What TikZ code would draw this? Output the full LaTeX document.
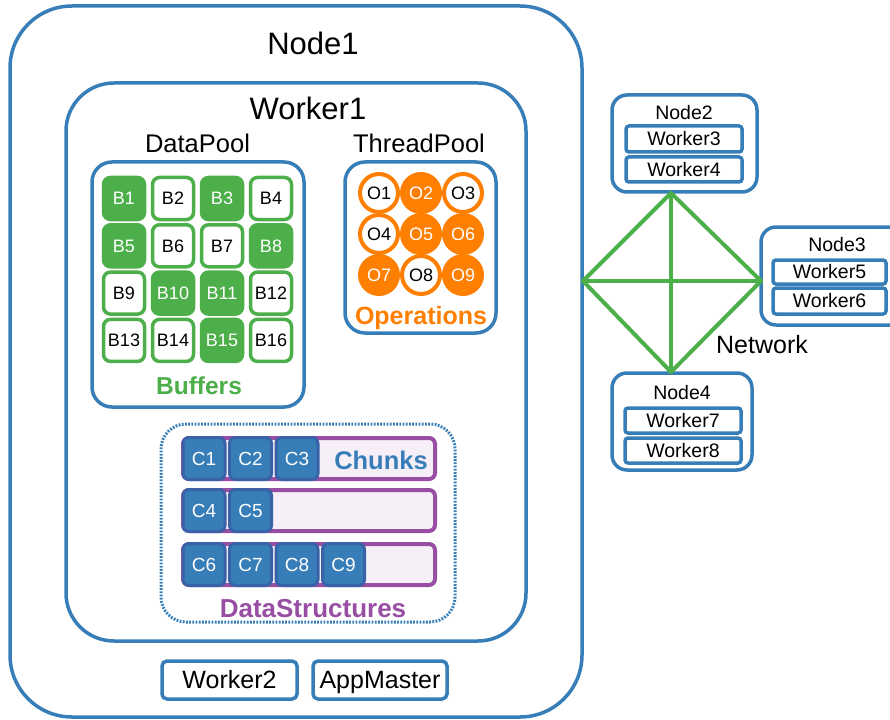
\documentclass[tikz,border=0pt]{standalone}
\usepackage{fontspec}
\setmainfont{Liberation Sans}
\definecolor{sblue}{RGB}{55,126,184}
\definecolor{sgreen}{RGB}{77,175,74}
\definecolor{sorange}{RGB}{255,127,0}
\definecolor{spurple}{RGB}{152,78,163}
\definecolor{chunkedge}{RGB}{58,98,168}
\definecolor{barfill}{RGB}{246,239,248}
\newcommand{\fsz}[1]{\fontsize{#1}{#1}\selectfont}
\begin{document}
\begin{tikzpicture}[x=1pt,y=-1pt,
  % fs=<size>: font size in pt, text box as tall as a capital so labels centre on their caps
  fs/.code={\pgfmathsetmacro\lblh{0.716*#1}%
    \tikzset{font=\fsz{#1}, text height/.expanded=\lblh pt, text depth=0pt}},
  lbl/.style={inner sep=0pt},
  frame/.style={draw=sblue, line width=3.5pt, fill=white, inner sep=0pt},
  smallframe/.style={draw=sblue, line width=3.5pt, fill=white, inner sep=0pt, rounded corners=3pt},
  bfull/.style={draw=sgreen, fill=sgreen, text=white, line width=3.5pt, rounded corners=7pt,
    minimum width=41pt, minimum height=42pt, inner sep=0pt, fs=18},
  bempty/.style={bfull, fill=white, text=black},
  ofull/.style={circle, draw=sorange, fill=sorange, text=white, line width=4pt,
    minimum size=38pt, inner sep=0pt, fs=18},
  oempty/.style={ofull, fill=white, text=black},
  bar/.style={draw=spurple, fill=barfill, line width=4pt, rounded corners=6pt,
    minimum width=252pt, minimum height=41pt, inner sep=0pt},
  chunk/.style={draw=chunkedge, fill=sblue, text=white, line width=3pt, rounded corners=6pt,
    minimum width=42pt, minimum height=42pt, inner sep=0pt, fs=19},
  net/.style={draw=sgreen, line width=4pt, line join=round, line cap=round}
]
\useasboundingbox (0,0) rectangle (890,719);

% ---------- Node1 and Worker1 ----------
\node[frame, rounded corners=62pt, minimum width=572pt, minimum height=711pt] (node1) at (296,361.5) {};
\node[lbl, fs=31] (node1t) at (313,43) {Node1};
\node[frame, rounded corners=48pt, minimum width=460pt, minimum height=558pt] (worker1) at (296,362) {};
\node[lbl, fs=31] (worker1t) at (308,108) {Worker1};

% ---------- DataPool ----------
\node[lbl, fs=25.5] (dpt) at (197.5,143) {DataPool};
\node[frame, rounded corners=20pt, minimum width=212pt, minimum height=245pt] (datapool) at (198,284.5) {};
\foreach \n/\c/\r/\s in {1/0/0/bfull, 2/1/0/bempty, 3/2/0/bfull, 4/3/0/bempty,
                         5/0/1/bfull, 6/1/1/bempty, 7/2/1/bempty, 8/3/1/bfull,
                         9/0/2/bempty, 10/1/2/bfull, 11/2/2/bfull, 12/3/2/bempty,
                         13/0/3/bempty, 14/1/3/bempty, 15/2/3/bfull, 16/3/3/bempty}
  \node[\s] (b\n) at ({124+49*\c},{198.5+47.3*\r}) {B\n};
\node[lbl, fs=24.5, font=\bfseries\fsz{24.5}, text=sgreen] (bufferst) at (199,386) {Buffers};

% ---------- ThreadPool ----------
\node[lbl, fs=25.5] (tpt) at (419,143) {ThreadPool};
\node[frame, rounded corners=20pt, minimum width=151pt, minimum height=171pt] (threadpool) at (420.5,247.5) {};
\foreach \n/\c/\r/\s in {1/0/0/oempty, 2/1/0/ofull, 3/2/0/oempty,
                         4/0/1/oempty, 5/1/1/ofull, 6/2/1/ofull,
                         7/0/2/ofull, 8/1/2/oempty, 9/2/2/ofull}
  \node[\s] (o\n) at ({379+42*\c},{193+41*\r}) {O\n};
\node[lbl, fs=25, font=\bfseries\fsz{25}, text=sorange] (opst) at (421,316) {Operations};

% ---------- DataStructures ----------
\node[draw=sblue, line width=3pt, dash pattern=on 1.8pt off 1.4pt, rounded corners=25pt,
      minimum width=294pt, minimum height=198pt, inner sep=0pt] (datastruct) at (308,523) {};
\node[bar] (bar1) at (309,458.5) {};
\node[bar] (bar2) at (309,510.5) {};
\node[bar] (bar3) at (309,564.5) {};
\foreach \n/\k in {1/0, 2/1, 3/2}
  \node[chunk] (c\n) at ({204+46.5*\k},458.5) {C\n};
\foreach \n/\k in {4/0, 5/1}
  \node[chunk] (c\n) at ({204+46.5*\k},510.5) {C\n};
\foreach \n/\k in {6/0, 7/1, 8/2, 9/3}
  \node[chunk] (c\n) at ({204+46.5*\k},564.5) {C\n};
\node[lbl, fs=25.5, font=\bfseries\fsz{25.5}, text=sblue] (chunkst) at (381,460) {Chunks};
\node[lbl, fs=26, font=\bfseries\fsz{26}, text=spurple] (dst) at (313,608) {DataStructures};

% ---------- Worker2 and AppMaster ----------
\node[smallframe, rounded corners=5pt, minimum width=135pt, minimum height=38pt,
      fs=25] (worker2) at (229.5,680) {Worker2};
\node[smallframe, rounded corners=5pt, minimum width=134pt, minimum height=38pt,
      fs=25] (appmaster) at (380,680) {AppMaster};

% ---------- remote nodes ----------
\node[frame, rounded corners=15pt, minimum width=145pt, minimum height=97pt] (node2) at (684.5,143.5) {};
\node[lbl, fs=19.5] (node2t) at (684,113) {Node2};
\node[smallframe, minimum width=116pt, minimum height=26pt, fs=19.5] (worker3) at (684,139) {Worker3};
\node[smallframe, minimum width=116pt, minimum height=25pt, fs=19.5] (worker4) at (684,169.5) {Worker4};

\node[frame, rounded corners=15pt, minimum width=144pt, minimum height=98pt] (node3) at (833,276) {};
\node[lbl, fs=19.5] (node3t) at (837,245) {Node3};
\node[smallframe, minimum width=113pt, minimum height=24pt, fs=19.5] (worker5) at (829.5,272) {Worker5};
\node[smallframe, minimum width=113pt, minimum height=26pt, fs=19.5] (worker6) at (829.5,301) {Worker6};

\node[frame, rounded corners=15pt, minimum width=140pt, minimum height=97pt] (node4) at (682,421.5) {};
\node[lbl, fs=19.5] (node4t) at (682,393) {Node4};
\node[smallframe, minimum width=116pt, minimum height=25pt, fs=19.5] (worker7) at (683,420.5) {Worker7};
\node[smallframe, minimum width=116pt, minimum height=25pt, fs=19.5] (worker8) at (683,450.5) {Worker8};

% ---------- network ----------
\coordinate (netL) at (583,281);
\coordinate (netT) at (671,193);
\coordinate (netR) at (761,281);
\coordinate (netB) at (671,372);
\draw[net] (netL) -- (netT) -- (netR) -- (netB) -- cycle;
\draw[net] (netL) -- (netR);
\draw[net] (netT) -- (netB);
\node[lbl, fs=25] (networkt) at (762,345) {Network};
\end{tikzpicture}
\end{document}
